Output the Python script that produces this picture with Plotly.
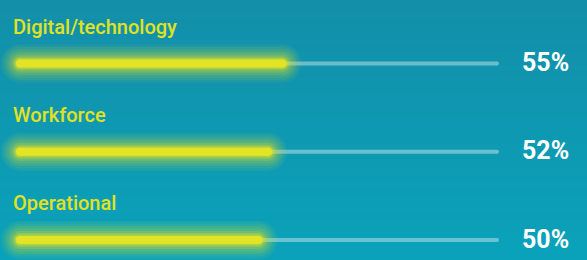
import plotly.graph_objects as go

categories = ["Digital/technology", "Workforce", "Operational"]
values = [55, 52, 50]
value_labels = ["55%", "52%", "50%"]
track_max = 100

W, H = 587, 260
x0_px, x100_px = 20, 497
ppu = (x100_px - x0_px) / 100.0
x_range = [-x0_px / ppu, (W - x0_px) / ppu]
y0_px, dy_px = 63.5, 88.3
y_range = [(H - y0_px) / dy_px, -y0_px / dy_px]

fig = go.Figure()

# background gradient
top = (0x13, 0x8F, 0xA9)
bot = (0x0A, 0xA2, 0xBA)
n = 40
shapes = []
for i in range(n):
    t = i / (n - 1)
    c = tuple(round(top[k] + (bot[k] - top[k]) * t) for k in range(3))
    shapes.append(dict(type="rect", xref="paper", yref="paper", x0=0, x1=1,
                       y0=1 - (i + 1) / n, y1=1 - i / n + 0.002,
                       fillcolor="rgb(%d,%d,%d)" % c, line=dict(width=0), layer="below"))

yellow = "#E2E425"
for i, (cat, v, lab) in enumerate(zip(categories, values, value_labels)):
    # track
    fig.add_trace(go.Scatter(x=[0, track_max], y=[i, i], mode="lines+markers",
                             line=dict(color="rgb(255,255,255)", width=4),
                             marker=dict(size=4, color="rgb(255,255,255)"),
                             opacity=0.38, hoverinfo="skip", showlegend=False))
    # glow
    for w, op in [(38, 0.07), (33, 0.08), (28, 0.10), (23, 0.13), (18, 0.18), (14, 0.26), (11, 0.4)]:
        fig.add_trace(go.Scatter(x=[0, v], y=[i, i], mode="lines+markers",
                                 line=dict(color=yellow, width=w),
                                 marker=dict(size=w, color=yellow, line=dict(width=0)),
                                 opacity=op, hoverinfo="skip", showlegend=False))
    # bar
    fig.add_trace(go.Scatter(x=[0, v], y=[i, i], mode="lines+markers",
                             line=dict(color=yellow, width=8),
                             marker=dict(size=8, color=yellow, line=dict(width=0)),
                             hoverinfo="skip", showlegend=False))
    fig.add_annotation(x=0, y=i, xref="x", yref="y", text=cat, showarrow=False,
                       xanchor="left", yanchor="middle", xshift=-9, yshift=37,
                       font=dict(family="Roboto", size=20, color="#E0E21F", weight=500))
    fig.add_annotation(x=track_max, y=i, xref="x", yref="y", text="<b>%s</b>" % lab,
                       showarrow=False, xanchor="left", yanchor="middle", xshift=23, yshift=1,
                       font=dict(family="Roboto", size=25, color="white"))

fig.update_layout(width=W, height=H, margin=dict(l=0, r=0, t=0, b=0),
                  paper_bgcolor="#0E98B1", plot_bgcolor="rgba(0,0,0,0)",
                  shapes=shapes,
                  xaxis=dict(range=x_range, visible=False, fixedrange=True),
                  yaxis=dict(range=y_range, visible=False, fixedrange=True))
fig.write_html("out.html", config={"displayModeBar": False},
               post_script="document.body.style.margin='0';")
